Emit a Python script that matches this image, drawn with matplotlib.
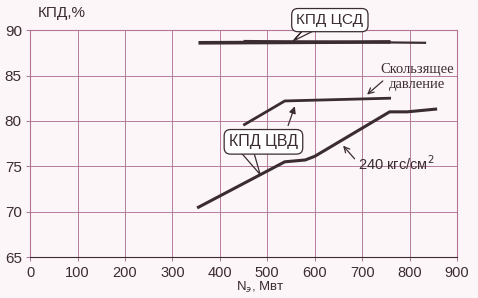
import matplotlib.pyplot as plt

# КПД ЦСД (two overlapping traces)
csd_x1 = [355, 760]
csd_y1 = [88.6, 88.7]
csd_x2 = [450, 835]
csd_y2 = [88.8, 88.6]

# КПД ЦВД, sliding pressure
slide_x = [452, 537, 758]
slide_y = [79.6, 82.2, 82.5]

# КПД ЦВД, 240 кгс/см2
p240_x = [355, 537, 580, 600, 758, 795, 855]
p240_y = [70.5, 75.5, 75.7, 76.1, 81.0, 81.0, 81.3]

x_ticks = list(range(0, 1000, 100))
y_ticks = list(range(65, 95, 5))

plt.rcParams["font.family"] = ["Liberation Sans", "DejaVu Sans"]

ink = "#3a2c30"
grid_c = "#b07494"

fig = plt.figure(figsize=(4.78, 2.98), dpi=100)
fig.patch.set_facecolor("#fdf6f9")
ax = fig.add_axes([0.063, 0.137, 0.893, 0.762])
ax.set_facecolor("#fdf6f9")

ax.set_xlim(0, 900)
ax.set_ylim(65, 90)
ax.set_xticks(x_ticks)
ax.set_yticks(y_ticks)
ax.tick_params(length=3, width=0.7, color=grid_c, labelsize=11, labelcolor=ink)
ax.tick_params(axis="x", pad=3.5, labelsize=10.5)
ax.tick_params(axis="y", pad=3)
ax.grid(True, color=grid_c, linewidth=0.65)
for s in ax.spines.values():
    s.set_color(grid_c)
    s.set_linewidth(0.8)
ax.spines["bottom"].set_color(ink)

ax.plot(csd_x1, csd_y1, color=ink, linewidth=2.6, solid_capstyle="butt")
ax.plot(csd_x2, csd_y2, color=ink, linewidth=1.6, solid_capstyle="butt")
ax.plot(slide_x, slide_y, color=ink, linewidth=2.0)
ax.plot(p240_x, p240_y, color=ink, linewidth=2.2)

fig.text(0.078, 0.955, "КПД,%", fontsize=11, color=ink, va="center")
fig.text(0.545, 0.01, "N$_э$, Мвт", fontsize=9.5, color=ink, ha="center", va="bottom")

# КПД ЦСД callout
ax.text(632, 91.1, "КПД ЦСД", fontsize=11, color=ink, ha="center", va="center",
        bbox=dict(boxstyle="round,pad=0.3,rounding_size=0.4", fc="white", ec=ink, lw=0.9),
        clip_on=False)
ax.plot([555, 580, 555, 612], [88.8, 90.3, 88.8, 90.3], color=ink, linewidth=0.9, clip_on=False)

# Скользящее давление
ax.text(816, 84.85, "Скользящее\nдавление", fontsize=10.5, family="Liberation Serif",
        color=ink, ha="center", va="center", linespacing=1.15)
ax.annotate("", xy=(706, 82.7), xytext=(748, 84.6),
            arrowprops=dict(arrowstyle="->", color=ink, lw=0.9))

# КПД ЦВД callout
ax.text(492, 77.7, "КПД ЦВД", fontsize=11.5, color=ink, ha="center", va="center",
        bbox=dict(boxstyle="round,pad=0.3,rounding_size=0.4", fc="white", ec=ink, lw=0.9))
ax.annotate("", xy=(560, 81.9), xytext=(542, 79.2),
            arrowprops=dict(arrowstyle="-|>", color=ink, lw=0.9, mutation_scale=10))
ax.plot([445, 485, 472], [76.5, 74.1, 76.5], color=ink, linewidth=0.9)

# 240 кгс/см2
ax.text(691, 75.3, "240 кгс/см$^2$", fontsize=10.5, color=ink, ha="left", va="center",
        family=["Liberation Sans Narrow", "Liberation Sans"])
ax.annotate("", xy=(656, 77.5), xytext=(688, 75.6),
            arrowprops=dict(arrowstyle="->", color=ink, lw=0.9))

fig.savefig("out.png", dpi=100, facecolor=fig.get_facecolor())
